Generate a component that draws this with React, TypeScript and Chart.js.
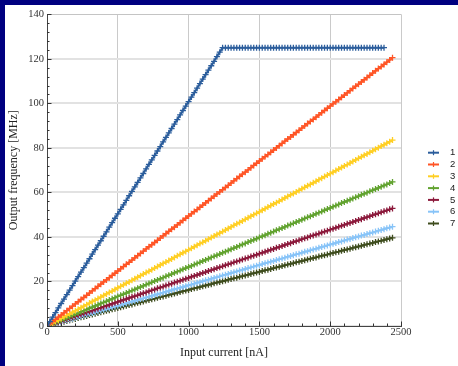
import React, { useEffect, useRef } from "react";
import { Chart, registerables } from "chart.js";

Chart.register(...registerables);

// Input current grid [nA]
const CURRENT_NA = [
  0, 20, 40, 60, 80, 100, 120, 140, 160, 180,
  200, 220, 240, 260, 280, 300, 320, 340, 360, 380,
  400, 420, 440, 460, 480, 500, 520, 540, 560, 580,
  600, 620, 640, 660, 680, 700, 720, 740, 760, 780,
  800, 820, 840, 860, 880, 900, 920, 940, 960, 980,
  1000, 1020, 1040, 1060, 1080, 1100, 1120, 1140, 1160, 1180,
  1200, 1220, 1240, 1260, 1280, 1300, 1320, 1340, 1360, 1380,
  1400, 1420, 1440, 1460, 1480, 1500, 1520, 1540, 1560, 1580,
  1600, 1620, 1640, 1660, 1680, 1700, 1720, 1740, 1760, 1780,
  1800, 1820, 1840, 1860, 1880, 1900, 1920, 1940, 1960, 1980,
  2000, 2020, 2040, 2060, 2080, 2100, 2120, 2140, 2160, 2180,
  2200, 2220, 2240, 2260, 2280, 2300, 2320, 2340, 2360, 2380,
  2400, 2420, 2440,
];

// Output frequency [MHz] per series
const FREQ_1 = [
  0, 2.0, 4.0, 6.0, 8.1, 10.1, 12.1, 14.1, 16.1, 18.1,
  20.2, 22.2, 24.2, 26.2, 28.2, 30.2, 32.3, 34.3, 36.3, 38.3,
  40.3, 42.3, 44.4, 46.4, 48.4, 50.4, 52.4, 54.4, 56.4, 58.5,
  60.5, 62.5, 64.5, 66.5, 68.5, 70.6, 72.6, 74.6, 76.6, 78.6,
  80.6, 82.7, 84.7, 86.7, 88.7, 90.7, 92.7, 94.8, 96.8, 98.8,
  100.8, 102.8, 104.8, 106.8, 108.9, 110.9, 112.9, 114.9, 116.9, 118.9,
  121.0, 123.0, 125.0, 125, 125, 125, 125, 125, 125, 125,
  125, 125, 125, 125, 125, 125, 125, 125, 125, 125,
  125, 125, 125, 125, 125, 125, 125, 125, 125, 125,
  125, 125, 125, 125, 125, 125, 125, 125, 125, 125,
  125, 125, 125, 125, 125, 125, 125, 125, 125, 125,
  125, 125, 125, 125, 125, 125, 125, 125, 125, 125,
];
const FREQ_2 = [
  0, 1.0, 2.0, 3.0, 4.0, 4.9, 5.9, 6.9, 7.9, 8.9,
  9.9, 10.9, 11.9, 12.8, 13.8, 14.8, 15.8, 16.8, 17.8, 18.8,
  19.8, 20.7, 21.7, 22.7, 23.7, 24.7, 25.7, 26.7, 27.7, 28.6,
  29.6, 30.6, 31.6, 32.6, 33.6, 34.6, 35.6, 36.5, 37.5, 38.5,
  39.5, 40.5, 41.5, 42.5, 43.5, 44.4, 45.4, 46.4, 47.4, 48.4,
  49.4, 50.4, 51.4, 52.3, 53.3, 54.3, 55.3, 56.3, 57.3, 58.3,
  59.3, 60.2, 61.2, 62.2, 63.2, 64.2, 65.2, 66.2, 67.2, 68.2,
  69.1, 70.1, 71.1, 72.1, 73.1, 74.1, 75.1, 76.1, 77.0, 78.0,
  79.0, 80.0, 81.0, 82.0, 83.0, 84.0, 84.9, 85.9, 86.9, 87.9,
  88.9, 89.9, 90.9, 91.9, 92.8, 93.8, 94.8, 95.8, 96.8, 97.8,
  98.8, 99.8, 100.7, 101.7, 102.7, 103.7, 104.7, 105.7, 106.7, 107.7,
  108.6, 109.6, 110.6, 111.6, 112.6, 113.6, 114.6, 115.6, 116.5, 117.5,
  118.5, 119.5, 120.5,
];
const FREQ_3 = [
  0, 0.7, 1.4, 2.1, 2.7, 3.4, 4.1, 4.8, 5.5, 6.2,
  6.8, 7.5, 8.2, 8.9, 9.6, 10.3, 11.0, 11.6, 12.3, 13.0,
  13.7, 14.4, 15.1, 15.7, 16.4, 17.1, 17.8, 18.5, 19.2, 19.8,
  20.5, 21.2, 21.9, 22.6, 23.3, 24.0, 24.6, 25.3, 26.0, 26.7,
  27.4, 28.1, 28.7, 29.4, 30.1, 30.8, 31.5, 32.2, 32.9, 33.5,
  34.2, 34.9, 35.6, 36.3, 37.0, 37.6, 38.3, 39.0, 39.7, 40.4,
  41.1, 41.7, 42.4, 43.1, 43.8, 44.5, 45.2, 45.9, 46.5, 47.2,
  47.9, 48.6, 49.3, 50.0, 50.6, 51.3, 52.0, 52.7, 53.4, 54.1,
  54.8, 55.4, 56.1, 56.8, 57.5, 58.2, 58.9, 59.5, 60.2, 60.9,
  61.6, 62.3, 63.0, 63.6, 64.3, 65.0, 65.7, 66.4, 67.1, 67.8,
  68.4, 69.1, 69.8, 70.5, 71.2, 71.9, 72.5, 73.2, 73.9, 74.6,
  75.3, 76.0, 76.7, 77.3, 78.0, 78.7, 79.4, 80.1, 80.8, 81.4,
  82.1, 82.8, 83.5,
];
const FREQ_4 = [
  0, 0.5, 1.1, 1.6, 2.1, 2.7, 3.2, 3.7, 4.2, 4.8,
  5.3, 5.8, 6.4, 6.9, 7.4, 8.0, 8.5, 9.0, 9.5, 10.1,
  10.6, 11.1, 11.7, 12.2, 12.7, 13.3, 13.8, 14.3, 14.8, 15.4,
  15.9, 16.4, 17.0, 17.5, 18.0, 18.6, 19.1, 19.6, 20.2, 20.7,
  21.2, 21.7, 22.3, 22.8, 23.3, 23.9, 24.4, 24.9, 25.5, 26.0,
  26.5, 27.0, 27.6, 28.1, 28.6, 29.2, 29.7, 30.2, 30.8, 31.3,
  31.8, 32.3, 32.9, 33.4, 33.9, 34.5, 35.0, 35.5, 36.1, 36.6,
  37.1, 37.7, 38.2, 38.7, 39.2, 39.8, 40.3, 40.8, 41.4, 41.9,
  42.4, 43.0, 43.5, 44.0, 44.5, 45.1, 45.6, 46.1, 46.7, 47.2,
  47.7, 48.3, 48.8, 49.3, 49.8, 50.4, 50.9, 51.4, 52.0, 52.5,
  53.0, 53.6, 54.1, 54.6, 55.2, 55.7, 56.2, 56.7, 57.3, 57.8,
  58.3, 58.9, 59.4, 59.9, 60.5, 61.0, 61.5, 62.0, 62.6, 63.1,
  63.6, 64.2, 64.7,
];
const FREQ_5 = [
  0, 0.4, 0.9, 1.3, 1.7, 2.2, 2.6, 3.0, 3.5, 3.9,
  4.3, 4.8, 5.2, 5.6, 6.1, 6.5, 6.9, 7.4, 7.8, 8.2,
  8.7, 9.1, 9.5, 10.0, 10.4, 10.8, 11.3, 11.7, 12.1, 12.6,
  13.0, 13.4, 13.8, 14.3, 14.7, 15.1, 15.6, 16.0, 16.4, 16.9,
  17.3, 17.7, 18.2, 18.6, 19.0, 19.5, 19.9, 20.3, 20.8, 21.2,
  21.6, 22.1, 22.5, 22.9, 23.4, 23.8, 24.2, 24.7, 25.1, 25.5,
  26.0, 26.4, 26.8, 27.3, 27.7, 28.1, 28.6, 29.0, 29.4, 29.9,
  30.3, 30.7, 31.2, 31.6, 32.0, 32.5, 32.9, 33.3, 33.8, 34.2,
  34.6, 35.1, 35.5, 35.9, 36.4, 36.8, 37.2, 37.7, 38.1, 38.5,
  39.0, 39.4, 39.8, 40.3, 40.7, 41.1, 41.5, 42.0, 42.4, 42.8,
  43.3, 43.7, 44.1, 44.6, 45.0, 45.4, 45.9, 46.3, 46.7, 47.2,
  47.6, 48.0, 48.5, 48.9, 49.3, 49.8, 50.2, 50.6, 51.1, 51.5,
  51.9, 52.4, 52.8,
];
const FREQ_6 = [
  0, 0.4, 0.7, 1.1, 1.5, 1.8, 2.2, 2.6, 2.9, 3.3,
  3.7, 4.0, 4.4, 4.8, 5.1, 5.5, 5.8, 6.2, 6.6, 6.9,
  7.3, 7.7, 8.0, 8.4, 8.8, 9.1, 9.5, 9.9, 10.2, 10.6,
  11.0, 11.3, 11.7, 12.1, 12.4, 12.8, 13.2, 13.5, 13.9, 14.3,
  14.6, 15.0, 15.4, 15.7, 16.1, 16.5, 16.8, 17.2, 17.5, 17.9,
  18.3, 18.6, 19.0, 19.4, 19.7, 20.1, 20.5, 20.8, 21.2, 21.6,
  21.9, 22.3, 22.7, 23.0, 23.4, 23.8, 24.1, 24.5, 24.9, 25.2,
  25.6, 26.0, 26.3, 26.7, 27.1, 27.4, 27.8, 28.2, 28.5, 28.9,
  29.2, 29.6, 30.0, 30.3, 30.7, 31.1, 31.4, 31.8, 32.2, 32.5,
  32.9, 33.3, 33.6, 34.0, 34.4, 34.7, 35.1, 35.5, 35.8, 36.2,
  36.6, 36.9, 37.3, 37.7, 38.0, 38.4, 38.8, 39.1, 39.5, 39.9,
  40.2, 40.6, 40.9, 41.3, 41.7, 42.0, 42.4, 42.8, 43.1, 43.5,
  43.9, 44.2, 44.6,
];
const FREQ_7 = [
  0, 0.3, 0.6, 1.0, 1.3, 1.6, 1.9, 2.3, 2.6, 2.9,
  3.2, 3.6, 3.9, 4.2, 4.5, 4.9, 5.2, 5.5, 5.8, 6.2,
  6.5, 6.8, 7.1, 7.5, 7.8, 8.1, 8.4, 8.8, 9.1, 9.4,
  9.7, 10.1, 10.4, 10.7, 11.0, 11.4, 11.7, 12.0, 12.3, 12.7,
  13.0, 13.3, 13.6, 14.0, 14.3, 14.6, 14.9, 15.3, 15.6, 15.9,
  16.2, 16.6, 16.9, 17.2, 17.5, 17.9, 18.2, 18.5, 18.8, 19.2,
  19.5, 19.8, 20.1, 20.4, 20.8, 21.1, 21.4, 21.7, 22.1, 22.4,
  22.7, 23.0, 23.4, 23.7, 24.0, 24.3, 24.7, 25.0, 25.3, 25.6,
  26.0, 26.3, 26.6, 26.9, 27.3, 27.6, 27.9, 28.2, 28.6, 28.9,
  29.2, 29.5, 29.9, 30.2, 30.5, 30.8, 31.2, 31.5, 31.8, 32.1,
  32.5, 32.8, 33.1, 33.4, 33.8, 34.1, 34.4, 34.7, 35.1, 35.4,
  35.7, 36.0, 36.4, 36.7, 37.0, 37.3, 37.7, 38.0, 38.3, 38.6,
  39.0, 39.3, 39.6,
];

const SERIES_LABELS = ["1", "2", "3", "4", "5", "6", "7"];
const SERIES_VALUES = [FREQ_1, FREQ_2, FREQ_3, FREQ_4, FREQ_5, FREQ_6, FREQ_7];
const SERIES_COLORS = ["#2b5d9c", "#ff5526", "#ffcf24", "#62a330", "#8c1a3c", "#88c4f8", "#3f4d1e"];

const X_MIN = 0, X_MAX = 2500, X_MAJOR = 500, X_MINOR = 100;
const Y_MIN = 0, Y_MAX = 140, Y_MAJOR = 20, Y_MINOR = 4;

const SERIF = "'Liberation Serif', 'Times New Roman', serif";

const frameTicks = {
  id: "frameTicks",
  afterDatasetsDraw(chart: any) {
    const { ctx, chartArea: a, scales } = chart;
    const xs = scales.x, ys = scales.y;
    ctx.save();
    ctx.strokeStyle = "#333";
    ctx.lineWidth = 1;
    ctx.beginPath();
    for (let v = X_MIN; v <= X_MAX; v += X_MINOR) {
      const px = Math.round(xs.getPixelForValue(v)) + 0.5;
      const len = v % X_MAJOR === 0 ? 4.5 : 2.5;
      ctx.moveTo(px, a.bottom);
      ctx.lineTo(px, a.bottom - len);
    }
    for (let v = Y_MIN; v <= Y_MAX; v += Y_MINOR) {
      const py = Math.round(ys.getPixelForValue(v)) + 0.5;
      const len = v % Y_MAJOR === 0 ? 4.5 : 2.5;
      ctx.moveTo(a.left, py);
      ctx.lineTo(a.left + len, py);
    }
    ctx.stroke();
    ctx.restore();
  },
};

const sideLegend = {
  id: "sideLegend",
  afterDraw(chart: any) {
    const { ctx, chartArea: a } = chart;
    ctx.save();
    ctx.font = "9.5px 'Liberation Sans', Arial, sans-serif";
    ctx.textBaseline = "middle";
    ctx.textAlign = "left";
    chart.data.datasets.forEach((ds: any, i: number) => {
      const y = 147.7 + i * 11.8;
      const x0 = a.right + 27;
      const x1 = a.right + 38;
      const cx = (x0 + x1) / 2;
      ctx.strokeStyle = ds.borderColor;
      ctx.lineWidth = 2;
      ctx.beginPath();
      ctx.moveTo(x0, y);
      ctx.lineTo(x1, y);
      ctx.stroke();
      ctx.lineWidth = 1.2;
      ctx.beginPath();
      ctx.moveTo(cx, y - 2.5);
      ctx.lineTo(cx, y + 2.5);
      ctx.stroke();
      ctx.fillStyle = "#222";
      ctx.fillText(ds.label, a.right + 49, y);
    });
    ctx.restore();
  },
};

export default function App() {
  const ref = useRef<HTMLCanvasElement | null>(null);

  useEffect(() => {
    if (!ref.current) return;
    const datasets = SERIES_VALUES.map((vals, i) => ({
      label: SERIES_LABELS[i],
      data: vals.map((y, k) => ({ x: CURRENT_NA[k], y })),
      borderColor: SERIES_COLORS[i],
      backgroundColor: SERIES_COLORS[i],
      borderWidth: 2,
      pointStyle: "cross",
      pointRadius: 3,
      pointBorderWidth: 1.3,
      pointBorderColor: SERIES_COLORS[i],
      tension: 0,
      fill: false,
    }));
    const chart = new Chart(ref.current, {
      type: "line",
      data: { datasets },
      plugins: [frameTicks, sideLegend],
      options: {
        animation: false,
        responsive: false,
        maintainAspectRatio: false,
        devicePixelRatio: 1,
        layout: { padding: { top: 9, right: 57, bottom: 0, left: 0 } },
        plugins: { legend: { display: false }, tooltip: { enabled: false } },
        scales: {
          x: {
            type: "linear",
            min: X_MIN,
            max: X_MAX,
            afterFit: (s: any) => { s.height = 40; },
            ticks: {
              stepSize: X_MAJOR,
              padding: 0,
              color: "#333",
              font: { family: SERIF, size: 10.5 },
              maxRotation: 0,
              callback: (v: any) => String(v),
            },
            grid: { color: "#cacaca", lineWidth: 1, drawTicks: false },
            border: { color: "#444", width: 1 },
            title: {
              display: true,
              text: "Input current [nA]",
              color: "#222",
              padding: { top: 0, bottom: 6 },
              font: { family: SERIF, size: 12 },
            },
          },
          y: {
            type: "linear",
            min: Y_MIN,
            max: Y_MAX,
            afterFit: (s: any) => { s.width = 42; },
            ticks: {
              stepSize: Y_MAJOR,
              padding: 3,
              color: "#333",
              font: { family: SERIF, size: 10.5 },
              callback: (v: any) => String(v),
            },
            grid: {
              color: (c: any) => (c.tick && c.tick.value === Y_MAX ? "#c4c4c4" : "#e2e2e2"),
              lineWidth: (c: any) => (c.tick && c.tick.value === Y_MAX ? 1 : 2),
              drawTicks: false,
            },
            border: { color: "#444", width: 1 },
            title: {
              display: true,
              text: "Output frequency [MHz]",
              color: "#222",
              padding: { top: 2, bottom: 0 },
              font: { family: SERIF, size: 12 },
            },
          },
        },
      },
    } as any);
    return () => chart.destroy();
  }, []);

  return (
    <div style={{ position: "fixed", left: 0, top: 0, width: 458, height: 366, background: "#000080" }}>
      <div style={{ position: "absolute", left: 5, top: 5, width: 453, height: 361, background: "#ffffff" }}>
        <canvas ref={ref} width={453} height={361} style={{ display: "block", width: 453, height: 361 }} />
      </div>
    </div>
  );
}
